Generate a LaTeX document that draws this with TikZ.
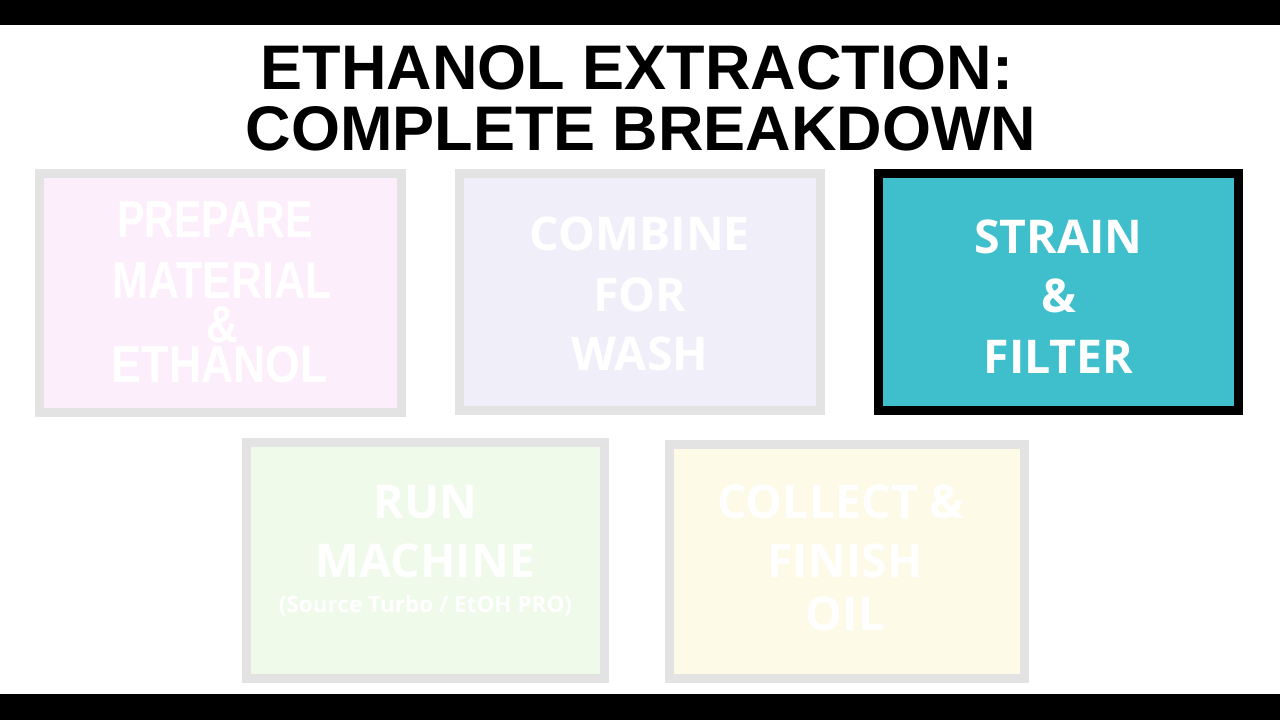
\documentclass[tikz,border=0pt]{standalone}
\usepackage{fontspec}
\usepackage{graphicx}
\newfontfamily\arialf{Liberation Sans}
\newfontfamily\opensf{Open Sans}
\definecolor{barblack}{HTML}{000000}
\definecolor{boxgray}{HTML}{E3E3E3}
\definecolor{pinkfill}{HTML}{FDEEFB}
\definecolor{lavfill}{HTML}{F0EFF9}
\definecolor{tealfill}{HTML}{3FBFCC}
\definecolor{greenfill}{HTML}{EFFAEB}
\definecolor{yellowfill}{HTML}{FEFAE8}
\definecolor{fadetext}{HTML}{FFFFFF}
\tikzset{
  stepbox/.style={draw=boxgray, line width=9pt, inner sep=0pt, rectangle},
  titletext/.style={anchor=base, inner sep=0pt, font=\arialf\bfseries\fontsize{63}{63}\selectfont, text=black},
  bigline/.style={anchor=base, inner sep=0pt, font=\opensf\bfseries\fontsize{46.5}{46.5}\selectfont, text=fadetext},
  smallline/.style={anchor=base, inner sep=0pt, font=\opensf\bfseries\fontsize{22.5}{22.5}\selectfont, text=fadetext},
  narrowline/.style={anchor=base, inner sep=0pt, text height=37pt, text depth=0pt, font=\arialf\bfseries\fontsize{52}{52}\selectfont, text=fadetext},
}
\begin{document}
\begin{tikzpicture}[x=1pt,y=-1pt]
\useasboundingbox (0,0) rectangle (1280,720);
\fill[white] (0,0) rectangle (1280,720);
\fill[barblack] (0,0) rectangle (1280,25);
\fill[barblack] (0,694) rectangle (1280,720);

\node[titletext] (t1) at (637,89) {ETHANOL EXTRACTION:};
\node[titletext] (t2) at (641,150) {COMPLETE BREAKDOWN};

% boxes
\node[stepbox, fill=pinkfill, minimum width=362pt, minimum height=239pt] (b1) at (220.5,293) {};
\node[stepbox, fill=lavfill, minimum width=361pt, minimum height=237pt] (b2) at (640,292) {};
\node[stepbox, draw=black, fill=tealfill, minimum width=360pt, minimum height=237pt] (b3) at (1058.5,292) {};
\node[stepbox, fill=greenfill, minimum width=358pt, minimum height=236pt] (b4) at (425.5,560.5) {};
\node[stepbox, fill=yellowfill, minimum width=355pt, minimum height=234pt] (b5) at (847,561.5) {};

% box 1 text
\node[narrowline] (b1a) at (215,237) {\scalebox{0.79}[1]{PREPARE}};
\node[narrowline] (b1b) at (222,298) {\scalebox{0.83}[1]{MATERIAL}};
\node[narrowline] (b1c) at (222,342) {\scalebox{0.85}[1]{\&}};
\node[narrowline] (b1d) at (220,382) {\scalebox{0.86}[1]{ETHANOL}};

% box 2 text
\node[bigline] (b2a) at (640,250) {COMBINE};
\node[bigline] (b2b) at (640,311) {FOR};
\node[bigline] (b2c) at (640,370) {WASH};

% box 3 text
\node[bigline, text=white] (b3a) at (1058.5,253) {STRAIN};
\node[bigline, text=white] (b3b) at (1058.5,312) {\&};
\node[bigline, text=white] (b3c) at (1058.5,373) {FILTER};

% box 4 text
\node[bigline] (b4a) at (425.5,518) {RUN};
\node[bigline] (b4b) at (425.5,577) {MACHINE};
\node[smallline] (b4c) at (425.5,612) {(Source Turbo / EtOH PRO)};

% box 5 text
\node[bigline] (b5a) at (841,518) {COLLECT \&};
\node[bigline] (b5b) at (845,577) {FINISH};
\node[bigline] (b5c) at (845,630) {OIL};
\end{tikzpicture}
\end{document}
